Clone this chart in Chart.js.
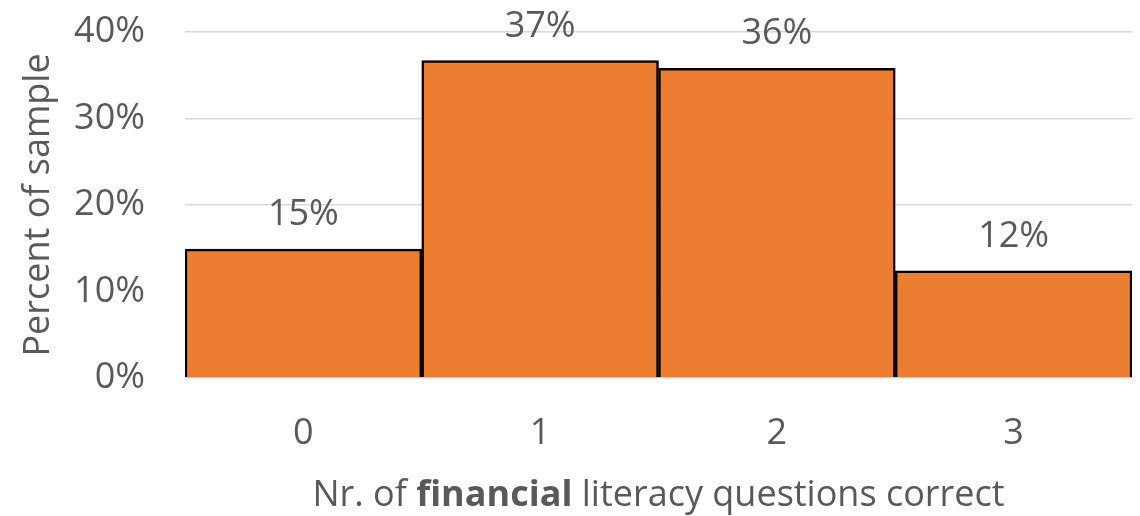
<!DOCTYPE html>
<html lang="en">
<head>
    <meta charset="UTF-8">
    <script src="https://cdn.jsdelivr.net/npm/chart.js"></script>
    <title>Financial literacy questions correct</title>
</head>
<style>
    html, body {
        margin: 0;
        padding: 0;
        background: #ffffff;
    }
    .Chart {
        position: relative;
        width: 1140px;
        height: 516px;
    }
</style>
<body>
    <div class="Chart">
        <canvas id="literacyChart"></canvas>
    </div>
<script>
    // values
    const categories = ['0', '1', '2', '3'];
    const percentOfSample = [14.9, 36.7, 35.8, 12.4];
    const yTicks = [0, 10, 20, 30, 40];

    const textColor = '#595959';
    const fontFamily = "'Open Sans', 'Noto Sans', sans-serif";
    const fontSize = 36;

    // value labels above the bars
    const barLabels = {
        id: 'barLabels',
        afterDatasetsDraw(chart) {
            const ctx = chart.ctx;
            const meta = chart.getDatasetMeta(0);
            ctx.save();
            ctx.fillStyle = textColor;
            ctx.font = `${fontSize}px ${fontFamily}`;
            ctx.textAlign = 'center';
            ctx.textBaseline = 'alphabetic';
            meta.data.forEach((bar, i) => {
                const v = chart.data.datasets[0].data[i];
                ctx.fillText(Math.round(v) + '%', bar.x, bar.y - 24);
            });
            ctx.restore();
        }
    };

    // x axis title with "financial" in bold
    const xTitle = {
        id: 'xTitle',
        afterDraw(chart) {
            const ctx = chart.ctx;
            const parts = [
                { text: 'Nr. of ', bold: false },
                { text: 'financial', bold: true },
                { text: ' literacy questions correct', bold: false }
            ];
            ctx.save();
            ctx.fillStyle = textColor;
            ctx.textBaseline = 'alphabetic';
            ctx.textAlign = 'left';
            let total = 0;
            parts.forEach(p => {
                ctx.font = `${p.bold ? 'bold ' : ''}${fontSize}px ${fontFamily}`;
                p.w = ctx.measureText(p.text).width;
                total += p.w;
            });
            const area = chart.chartArea;
            let x = (area.left + area.right) / 2 - total / 2;
            parts.forEach(p => {
                ctx.font = `${p.bold ? 'bold ' : ''}${fontSize}px ${fontFamily}`;
                ctx.fillText(p.text, x, 506);
                x += p.w;
            });
            ctx.restore();
        }
    };

    const ctx = document.getElementById('literacyChart').getContext('2d');

    const chart = new Chart(ctx, {
        type: 'bar',
        data: {
            labels: categories,
            datasets: [{
                label: 'Percent of sample',
                data: percentOfSample,
                backgroundColor: '#ED7D31',
                borderColor: '#000000',
                borderWidth: 2.5,
                categoryPercentage: 1.0,
                barPercentage: 1.0
            }]
        },
        options: {
            responsive: true,
            maintainAspectRatio: false,
            animation: false,
            layout: {
                padding: { top: 32, right: 8, bottom: 0, left: 0 }
            },
            plugins: {
                legend: { display: false },
                tooltip: { enabled: false }
            },
            scales: {
                x: {
                    grid: { display: false },
                    border: { display: false },
                    ticks: {
                        color: textColor,
                        font: { family: fontFamily, size: fontSize },
                        padding: 26
                    },
                    afterFit(scale) {
                        scale.height = 138;
                    }
                },
                y: {
                    min: 0,
                    max: 40,
                    afterBuildTicks(scale) {
                        scale.ticks = yTicks.map(v => ({ value: v }));
                    },
                    grid: {
                        color: '#D9D9D9',
                        lineWidth: 1.5,
                        drawTicks: false
                    },
                    border: { display: false },
                    ticks: {
                        color: textColor,
                        font: { family: fontFamily, size: fontSize },
                        padding: 40,
                        callback: v => v + '%'
                    },
                    title: {
                        display: true,
                        text: 'Percent of sample',
                        color: textColor,
                        font: { family: fontFamily, size: fontSize },
                        padding: { top: 17, bottom: 0 }
                    },
                    afterFit(scale) {
                        scale.width = 185;
                        scale.paddingTop = 0;
                        scale.paddingBottom = 0;
                    }
                }
            }
        },
        plugins: [barLabels, xTitle]
    });
</script>
</body>
</html>
